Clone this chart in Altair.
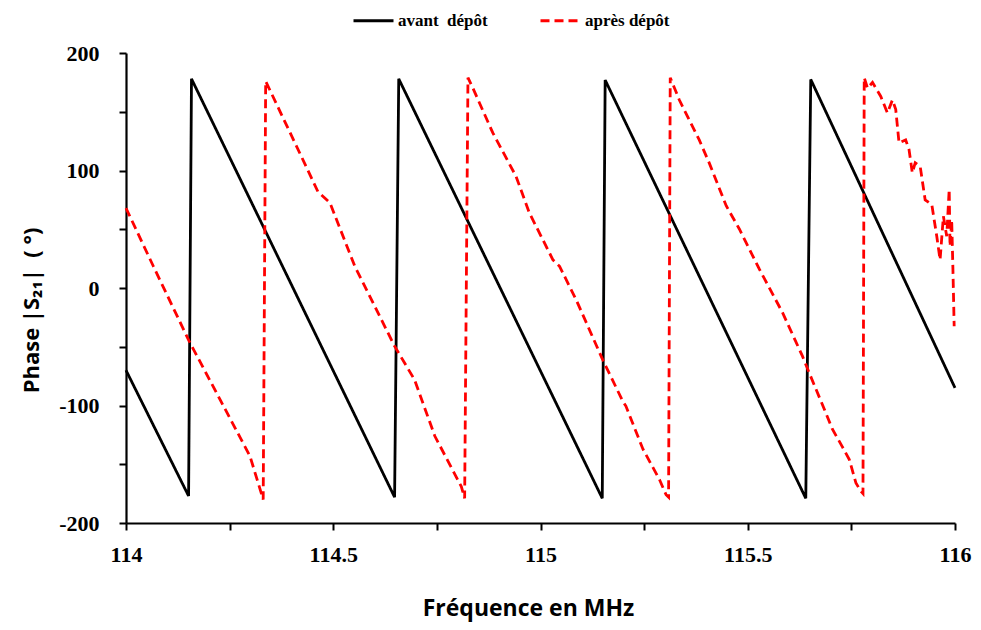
import altair as alt
import pandas as pd

series_names = ["avant\u00a0\u00a0dépôt", "après dépôt"]

black_x = [114.0, 114.151, 114.158, 114.648, 114.658, 115.149, 115.156, 115.640, 115.652, 116.0]
black_y = [-70, -177, 178, -178, 178, -179, 177, -179, 177.5, -85]

red_x = [114.0, 114.066, 114.152, 114.227, 114.299, 114.331, 114.337,
         114.423, 114.463, 114.492, 114.552, 114.648, 114.696, 114.745, 114.809, 114.817,
         114.825, 114.837, 114.885, 114.941, 114.973, 115.03, 115.046, 115.086, 115.150,
         115.198, 115.206, 115.247, 115.287, 115.303, 115.309,
         115.313, 115.335, 115.383, 115.407, 115.448, 115.480, 115.528, 115.584, 115.632,
         115.648, 115.688, 115.704, 115.728, 115.745, 115.761, 115.773, 115.778,
         115.781, 115.789, 115.801, 115.821, 115.837, 115.849, 115.857, 115.865, 115.881,
         115.889, 115.897, 115.904, 115.916, 115.928, 115.944, 115.956, 115.964, 115.972,
         115.980, 115.986, 115.988, 115.992, 115.995, 115.998]
red_y = [68, 18.5, -45, -95, -143, -180, 176,
         112, 82, 72.5, 18.5, -49.5, -78, -126, -169, -179,
         179, 170, 132, 95, 64, 24, 18.5, -10, -61,
         -96, -100.5, -137, -163, -176, -178,
         179, 160, 126, 106.5, 70, 50, 16, -21, -58,
         -72, -106, -120, -135, -146, -166, -173, -175,
         179, 170, 175, 163, 149, 160, 152, 123.5, 126,
         118, 98, 106.5, 103.5, 75, 71, 44, 24, 61,
         44, 84, 35.5, 58, 16, -32.5]

rows = []
for i, (x, y) in enumerate(zip(black_x, black_y)):
    rows.append({"f": x, "phase": y, "serie": series_names[0], "i": i})
for i, (x, y) in enumerate(zip(red_x, red_y)):
    rows.append({"f": x, "phase": y, "serie": series_names[1], "i": i})
df = pd.DataFrame(rows)

x_ticks = [114 + 0.25 * k for k in range(9)]
y_ticks = [-200 + 50 * k for k in range(9)]

chart = alt.Chart(df).mark_line(strokeWidth=2.8).encode(
    x=alt.X("f:Q", scale=alt.Scale(domain=[114, 116], nice=False, zero=False),
            axis=alt.Axis(values=x_ticks, labelFlush=False, labelPadding=14,
                          labelExpr="(datum.value * 2) % 1 == 0 ? '' + datum.value : ''",
                          title="Fréquence en MHz", titlePadding=32, titleX=402,
                          titleFontSize=23)),
    y=alt.Y("phase:Q", scale=alt.Scale(domain=[-200, 200], nice=False),
            axis=alt.Axis(values=y_ticks, labelPadding=20,
                          labelExpr="datum.value % 100 == 0 ? '' + datum.value : ''",
                          title="Phase\u00a0|S₂₁|\u00a0\u00a0(\u00a0°)", titlePadding=15,
                          titleY=257)),
    color=alt.Color("serie:N", scale=alt.Scale(domain=series_names, range=["#000000", "#FF0000"]),
                    legend=alt.Legend(title=None, orient="none", legendX=226, legendY=-54,
                                      direction="horizontal", symbolType="stroke",
                                      symbolSize=1600, symbolStrokeWidth=3,
                                      labelFont="Liberation Serif", labelFontWeight="bold",
                                      labelFontSize=17, labelColor="#000000",
                                      labelOffset=3, columnPadding=46)),
    strokeDash=alt.StrokeDash("serie:N", scale=alt.Scale(domain=series_names, range=[[1, 0], [9, 5]]),
                              legend=None),
    order="i:Q",
).properties(
    width=829, height=470,
    autosize=alt.AutoSizeParams(type="none"),
    padding={"left": 118, "top": 45, "right": 18, "bottom": 106},
).configure_view(stroke=None).configure_axis(
    grid=False, domainColor="#000000", domainWidth=2.2, tickColor="#000000",
    tickWidth=2, tickSize=7, labelFont="Liberation Serif", labelFontWeight="bold",
    labelFontSize=22, labelColor="#000000",
    titleFont="Open Sans", titleFontWeight="bold", titleFontSize=22, titleColor="#000000",
)

chart.save("out.html", embed_options={"renderer": "svg", "actions": False})
